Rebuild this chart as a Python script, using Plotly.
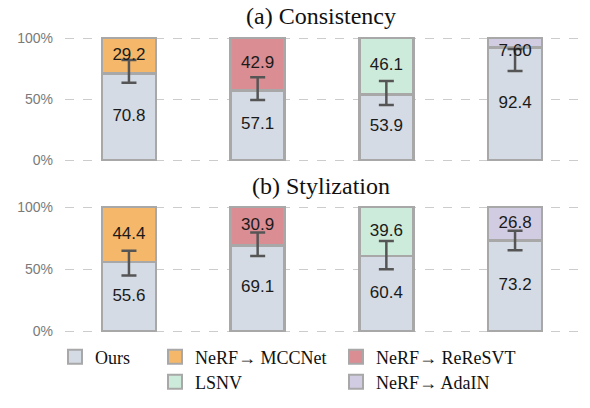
import plotly.graph_objects as go

# ---------------- data ----------------
methods = ["NeRF\u2192 MCCNet", "NeRF\u2192 ReReSVT", "LSNV", "NeRF\u2192 AdaIN"]
cats = ["MCCNet", "ReReSVT", "LSNV", "AdaIN"]

cons_ours = [70.8, 57.1, 53.9, 92.4]
cons_other = [29.2, 42.9, 46.1, 7.60]
cons_other_txt = ["29.2", "42.9", "46.1", "7.60"]
cons_err_center = [72.7, 58.5, 54.9, 82.0]
cons_err_half = [9.3, 9.3, 9.8, 9.0]

styl_ours = [55.6, 69.1, 60.4, 73.2]
styl_other = [44.4, 30.9, 39.6, 26.8]
styl_other_txt = ["44.4", "30.9", "39.6", "26.8"]
styl_err_center = [54.8, 70.0, 61.2, 73.0]
styl_err_half = [10.0, 9.5, 11.4, 7.8]

titles = ["(a) Consistency", "(b) Stylization"]
ytick_vals = [0, 50, 100]
ytick_text = ["0%", "50%", "100%"]

# ---------------- style ----------------
W, H = 590, 408
ours_color = "#D4DBE5"
other_colors = ["#F5B86A", "#DA8D93", "#CDEBDA", "#D2CCE3"]
edge = "#A8A8A8"
err_color = "#555555"
sans = "Liberation Sans"
serif = "Liberation Serif"

def px_x(p):
    return p / W

def px_y(p):
    return 1 - p / H

fig = go.Figure()

panels = [
    dict(ours=cons_ours, other=cons_other, txt=cons_other_txt, ec=cons_err_center, eh=cons_err_half,
         xa="x", ya="y", dom=(px_y(163.66), px_y(34.34))),
    dict(ours=styl_ours, other=styl_other, txt=styl_other_txt, ec=styl_err_center, eh=styl_err_half,
         xa="x2", ya="y2", dom=(px_y(334.72), px_y(203.28))),
]

legend_names = ["legend", "legend2", "legend3", "legend4", "legend5"]
bar_w = 0.42

for pi, p in enumerate(panels):
    fig.add_trace(go.Bar(
        x=cats, y=p["ours"], name="Ours", width=bar_w,
        marker=dict(color=ours_color, line=dict(color=edge, width=2.6)),
        xaxis=p["xa"], yaxis=p["ya"], showlegend=False, hoverinfo="skip",
    ))
    for i in range(len(cats)):
        fig.add_trace(go.Bar(
            x=[cats[i]], y=[p["other"][i]], name=methods[i], width=bar_w,
            marker=dict(color=other_colors[i], line=dict(color=edge, width=2.6)),
            xaxis=p["xa"], yaxis=p["ya"], showlegend=False, hoverinfo="skip",
        ))
    # error bars
    fig.add_trace(go.Scatter(
        x=cats, y=p["ec"], mode="markers", marker=dict(size=1, opacity=0),
        error_y=dict(type="data", array=p["eh"], color=err_color, thickness=2.5, width=7.5),
        xaxis=p["xa"], yaxis=p["ya"], showlegend=False, hoverinfo="skip",
    ))
    # value labels (drawn above error bars)
    ours_mid = [v / 2 for v in p["ours"]]
    other_mid = [min(o + v / 2, 89) for o, v in zip(p["ours"], p["other"])]
    fig.add_trace(go.Scatter(
        x=cats + cats, y=ours_mid + other_mid, mode="text",
        text=[f"{v:.1f}" for v in p["ours"]] + p["txt"],
        textfont=dict(family=sans, size=17, color="#1a1a1a"),
        xaxis=p["xa"], yaxis=p["ya"], showlegend=False, hoverinfo="skip",
    ))

# legend entries (square swatches)
leg_labels = ["Ours"] + methods
leg_colors = [ours_color] + other_colors
for name, lab, col in zip(legend_names, leg_labels, leg_colors):
    fig.add_trace(go.Scatter(
        x=[None], y=[None], mode="markers", name=lab,
        marker=dict(symbol="square", size=14, color=col, line=dict(color=edge, width=2)),
        legend=name, showlegend=True, hoverinfo="skip",
    ))

xdom = [px_x(65), px_x(583)]
xr = [-0.497, 3.528]
axis_common_y = dict(
    range=[-3, 103], tickvals=ytick_vals, ticktext=ytick_text,
    tickfont=dict(family=sans, size=14, color="#7a7a7a"),
    showgrid=True, gridcolor="#cccccc", griddash="dash", gridwidth=1,
    zeroline=False, showline=False, ticks="", ticklabelstandoff=11,
    fixedrange=True, automargin=False,
)
axis_common_x = dict(
    type="category", range=xr, domain=xdom, showticklabels=False,
    showgrid=False, zeroline=False, showline=False, ticks="", fixedrange=True,
    automargin=False,
)

fig.update_layout(
    width=W, height=H,
    margin=dict(l=0, r=0, t=0, b=0, autoexpand=False),
    paper_bgcolor="white", plot_bgcolor="white",
    barmode="stack",
    xaxis=dict(**axis_common_x, anchor="y"),
    xaxis2=dict(**axis_common_x, anchor="y2"),
    yaxis=dict(**axis_common_y, domain=list(panels[0]["dom"]), anchor="x"),
    yaxis2=dict(**axis_common_y, domain=list(panels[1]["dom"]), anchor="x2"),
    font=dict(family=serif, size=18, color="#111111"),
)

# subplot titles
title_y = [16, 186]
for t, ty in zip(titles, title_y):
    fig.add_annotation(
        text=t, x=px_x(321), y=px_y(ty), xref="paper", yref="paper",
        xanchor="center", yanchor="middle", showarrow=False,
        font=dict(family=serif, size=24, color="#111111"),
    )

# legends positioned as a grid
leg_pos = [(77, 357), (177, 357), (358, 357), (177, 382), (358, 382)]
for name, (cx, cy) in zip(legend_names, leg_pos):
    fig.update_layout({name: dict(
        x=px_x(cx - 22), y=px_y(cy), xanchor="left", yanchor="middle",
        xref="paper", yref="paper", orientation="h",
        bgcolor="rgba(0,0,0,0)", borderwidth=0, itemsizing="trace",
        font=dict(family=serif, size=18, color="#111111"),
    )})

fig.write_html("out.html", config={"displayModeBar": False},
               post_script="document.body.style.margin='0px';")
